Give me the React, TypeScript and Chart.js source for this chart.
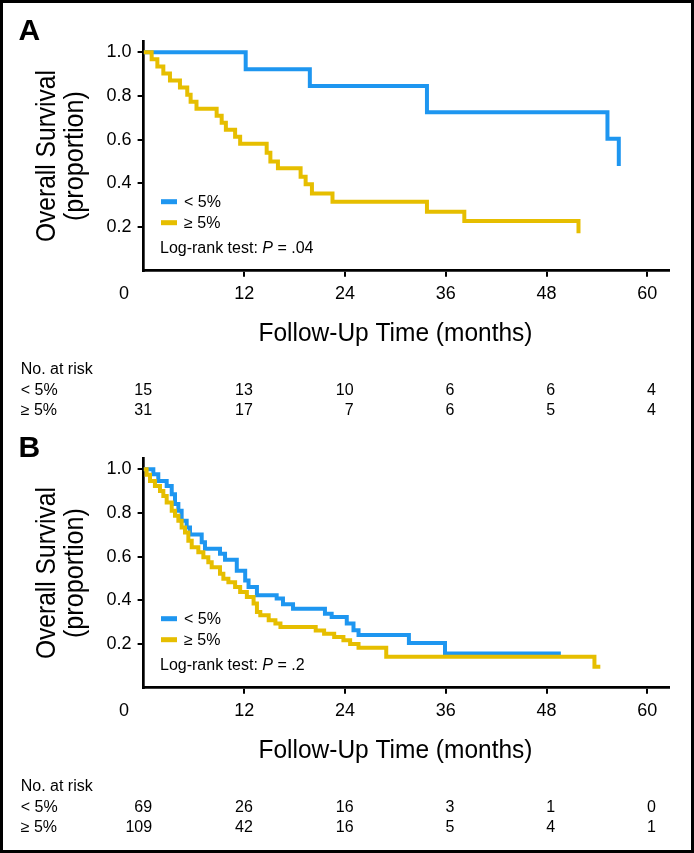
import React, { useEffect, useRef } from 'react';
import { Chart, registerables } from 'chart.js';

Chart.register(...registerables);

const FONT = '"Liberation Sans", Arial, Helvetica, sans-serif';
const BLUE = '#1E96F0';
const YELLOW = '#E6BE00';

// Shared axes / labels
const timeTicks = [0, 12, 24, 36, 48, 60];
const survivalTicks = [0.2, 0.4, 0.6, 0.8, 1.0];
const groupLabels = ['< 5%', '≥ 5%'];
const riskTimes = [0, 12, 24, 36, 48, 60];

// Panel A
const aLowMonths = [0, 12.16, 19.8, 33.75, 55.25, 56.6];
const aLowSurvival = [1, 0.923, 0.846, 0.725, 0.604, 0.48];
const aHighMonths = [0, 0.96, 1.64, 2.35, 3.14, 4.33, 5.2, 5.6, 6.3, 8.7, 9.3, 9.8, 10.9, 11.5, 14.66, 15.1, 16.0, 18.7, 19.3, 20.05, 22.5, 33.75, 38.2, 51.8];
const aHighSurvival = [1, 0.968, 0.935, 0.903, 0.871, 0.839, 0.806, 0.774, 0.742, 0.71, 0.677, 0.645, 0.613, 0.581, 0.54, 0.5, 0.469, 0.43, 0.396, 0.354, 0.316, 0.27, 0.228, 0.171];
const aRiskLow = [15, 13, 10, 6, 6, 4];
const aRiskHigh = [31, 17, 7, 6, 5, 4];
const aPValue = '.04';

// Panel B
const bLowMonths = [0, 1.16, 1.75, 2.75, 3.35, 3.74, 4.14, 4.53, 5.13, 5.53, 6.92, 7.31, 9.1, 9.7, 11.1, 12.1, 12.5, 13.5, 15.85, 16.6, 17.8, 21.6, 22.4, 24.2, 25.0, 25.6, 31.6, 35.9, 49.7];
const bLowSurvival = [1, 0.977, 0.947, 0.924, 0.886, 0.841, 0.81, 0.764, 0.734, 0.701, 0.666, 0.636, 0.613, 0.586, 0.536, 0.491, 0.461, 0.423, 0.408, 0.382, 0.362, 0.339, 0.324, 0.294, 0.263, 0.241, 0.205, 0.157, 0.157];
const bHighMonths = [0, 0.36, 0.76, 1.35, 1.95, 2.35, 2.75, 3.35, 3.74, 4.14, 4.53, 4.93, 5.33, 5.73, 6.52, 7.12, 7.71, 8.11, 9.1, 9.5, 10.1, 10.9, 11.5, 12.3, 13.1, 13.5, 13.9, 14.9, 15.7, 16.3, 20.5, 21.5, 22.7, 23.8, 24.6, 25.6, 28.9, 53.7, 54.4];
const bHighSurvival = [1, 0.975, 0.947, 0.924, 0.901, 0.878, 0.848, 0.81, 0.787, 0.764, 0.734, 0.711, 0.673, 0.643, 0.62, 0.597, 0.574, 0.552, 0.522, 0.499, 0.483, 0.461, 0.438, 0.415, 0.385, 0.347, 0.332, 0.309, 0.294, 0.278, 0.262, 0.247, 0.232, 0.217, 0.2, 0.183, 0.142, 0.096, 0.096];
const bRiskLow = [69, 26, 16, 3, 1, 0];
const bRiskHigh = [109, 42, 16, 5, 4, 1];
const bPValue = '.2';

const CANVAS_W = 688;
const CANVAS_H = 417;

type PanelProps = {
  letter: string;
  top: number;
  lowX: number[];
  lowY: number[];
  highX: number[];
  highY: number[];
  riskLow: number[];
  riskHigh: number[];
  pValue: string;
};

function KMPanel(props: PanelProps) {
  const ref = useRef<HTMLCanvasElement | null>(null);

  useEffect(() => {
    const canvas = ref.current;
    if (!canvas) return;
    const { letter, lowX, lowY, highX, highY, riskLow, riskHigh, pValue } = props;

    const overlay = {
      id: 'kmOverlay',
      afterDraw(chart: any) {
        const ctx: CanvasRenderingContext2D = chart.ctx;
        const ca = chart.chartArea;
        const xs = chart.scales.x;
        const X = (v: number) => xs.getPixelForValue(v);
        ctx.save();
        ctx.fillStyle = '#000';
        ctx.textBaseline = 'alphabetic';

        // x tick labels
        ctx.font = `18px ${FONT}`;
        ctx.textAlign = 'center';
        timeTicks.forEach((v) => {
          ctx.fillText(String(v), X(v) - (v === 0 ? 19.6 : 0), ca.bottom + 28.6);
        });

        // x title
        ctx.font = `26px ${FONT}`;
        ctx.fillText(
          'Follow-Up Time (months)',
          (X(timeTicks[0]) + X(timeTicks[timeTicks.length - 1])) / 2,
          ca.bottom + 69.8,
          274
        );

        // y title
        const cy = (ca.top + ca.bottom) / 2;
        ctx.font = `28px ${FONT}`;
        ctx.save();
        ctx.translate(ca.left - 88.3, cy);
        ctx.rotate(-Math.PI / 2);
        ctx.fillText('Overall Survival', 0, 0, 172);
        ctx.restore();
        ctx.save();
        ctx.translate(ca.left - 60.6, cy);
        ctx.rotate(-Math.PI / 2);
        ctx.fillText('(proportion)', 0, 0, 130);
        ctx.restore();

        // panel letter
        ctx.textAlign = 'left';
        ctx.font = `bold 30px ${FONT}`;
        ctx.fillText(letter, 15.6, 37);

        // legend
        ctx.font = `16px ${FONT}`;
        chart.data.datasets.forEach((ds: any, i: number) => {
          const yc = ca.bottom - 69 + i * 21;
          ctx.fillStyle = ds.borderColor;
          ctx.fillRect(ca.left + 17.4, yc - 2.5, 16, 5);
          ctx.fillStyle = '#000';
          ctx.fillText(ds.label, ca.left + 40.4, yc + 5.6);
        });

        // log-rank text
        const lx = ca.left + 16.4;
        const ly = ca.bottom - 17.4;
        const part1 = 'Log-rank test: ';
        ctx.font = `16px ${FONT}`;
        ctx.fillText(part1, lx, ly);
        let cx = lx + ctx.measureText(part1).width;
        ctx.font = `italic 16px ${FONT}`;
        ctx.fillText('P', cx, ly);
        cx += ctx.measureText('P').width;
        ctx.font = `16px ${FONT}`;
        ctx.fillText(' = ' + pValue, cx, ly);

        // risk table
        ctx.font = `16px ${FONT}`;
        ctx.textAlign = 'left';
        const r0 = ca.bottom + 103.3;
        ctx.fillText('No. at risk', 17.7, r0);
        ctx.fillText(groupLabels[0], 17.7, r0 + 20.5);
        ctx.fillText(groupLabels[1], 17.7, r0 + 40.5);
        ctx.textAlign = 'right';
        riskTimes.forEach((t, i) => {
          ctx.fillText(String(riskLow[i]), X(t) + 8.5, r0 + 20.5);
          ctx.fillText(String(riskHigh[i]), X(t) + 8.5, r0 + 40.5);
        });
        ctx.restore();
      },
    };

    const chart = new Chart(canvas, {
      type: 'line',
      data: {
        datasets: [
          {
            label: groupLabels[0],
            data: lowX.map((x, i) => ({ x, y: lowY[i] })),
            borderColor: BLUE,
            backgroundColor: BLUE,
            borderWidth: 4,
            stepped: 'before',
            pointRadius: 0,
            fill: false,
            order: 2,
            borderCapStyle: 'butt',
            borderJoinStyle: 'miter',
          },
          {
            label: groupLabels[1],
            data: highX.map((x, i) => ({ x, y: highY[i] })),
            borderColor: YELLOW,
            backgroundColor: YELLOW,
            borderWidth: 4,
            stepped: 'before',
            pointRadius: 0,
            fill: false,
            order: 1,
            borderCapStyle: 'butt',
            borderJoinStyle: 'miter',
          },
        ],
      },
      options: {
        responsive: false,
        animation: false,
        events: [],
        layout: { padding: { left: 40.6, right: 22, top: 38.4, bottom: 89.3 } },
        plugins: { legend: { display: false }, tooltip: { enabled: false }, title: { display: false } },
        scales: {
          x: {
            type: 'linear',
            min: 0,
            max: 62.58,
            afterBuildTicks: (s: any) => {
              s.ticks = timeTicks.map((v) => ({ value: v }));
            },
            afterFit: (s: any) => {
              s.height = 60;
            },
            ticks: { display: false },
            grid: {
              drawOnChartArea: false,
              drawTicks: true,
              tickLength: 6,
              lineWidth: 2,
              color: (c: any) => (c.tick && c.tick.value === 0 ? 'rgba(0,0,0,0)' : '#000'),
            },
            border: { display: true, color: '#000', width: 2.7 },
          },
          y: {
            type: 'linear',
            min: 0,
            max: 1.05,
            afterBuildTicks: (s: any) => {
              s.ticks = survivalTicks.map((v) => ({ value: v }));
            },
            afterFit: (s: any) => {
              s.width = 100;
            },
            ticks: {
              color: '#000',
              padding: 6,
              font: { family: FONT, size: 18 },
              callback: (v: any) => Number(v).toFixed(1),
            },
            grid: { drawOnChartArea: false, drawTicks: true, tickLength: 6, lineWidth: 2, color: '#000' },
            border: { display: true, color: '#000', width: 2.7 },
          },
        },
      },
      plugins: [overlay],
    } as any);

    return () => chart.destroy();
  }, []);

  return (
    <canvas
      ref={ref}
      width={CANVAS_W}
      height={CANVAS_H}
      style={{ position: 'absolute', left: 0, top: props.top, display: 'block', width: CANVAS_W, height: CANVAS_H }}
    />
  );
}

export default function App() {
  return (
    <div
      style={{
        width: 694,
        height: 853,
        boxSizing: 'border-box',
        border: '3px solid #000',
        position: 'relative',
        background: '#fff',
        overflow: 'hidden',
      }}
    >
      <style>{'html,body{margin:0;padding:0;background:#fff;}'}</style>
      <KMPanel
        letter="A"
        top={0}
        lowX={aLowMonths}
        lowY={aLowSurvival}
        highX={aHighMonths}
        highY={aHighSurvival}
        riskLow={aRiskLow}
        riskHigh={aRiskHigh}
        pValue={aPValue}
      />
      <KMPanel
        letter="B"
        top={417}
        lowX={bLowMonths}
        lowY={bLowSurvival}
        highX={bHighMonths}
        highY={bHighSurvival}
        riskLow={bRiskLow}
        riskHigh={bRiskHigh}
        pValue={bPValue}
      />
    </div>
  );
}
